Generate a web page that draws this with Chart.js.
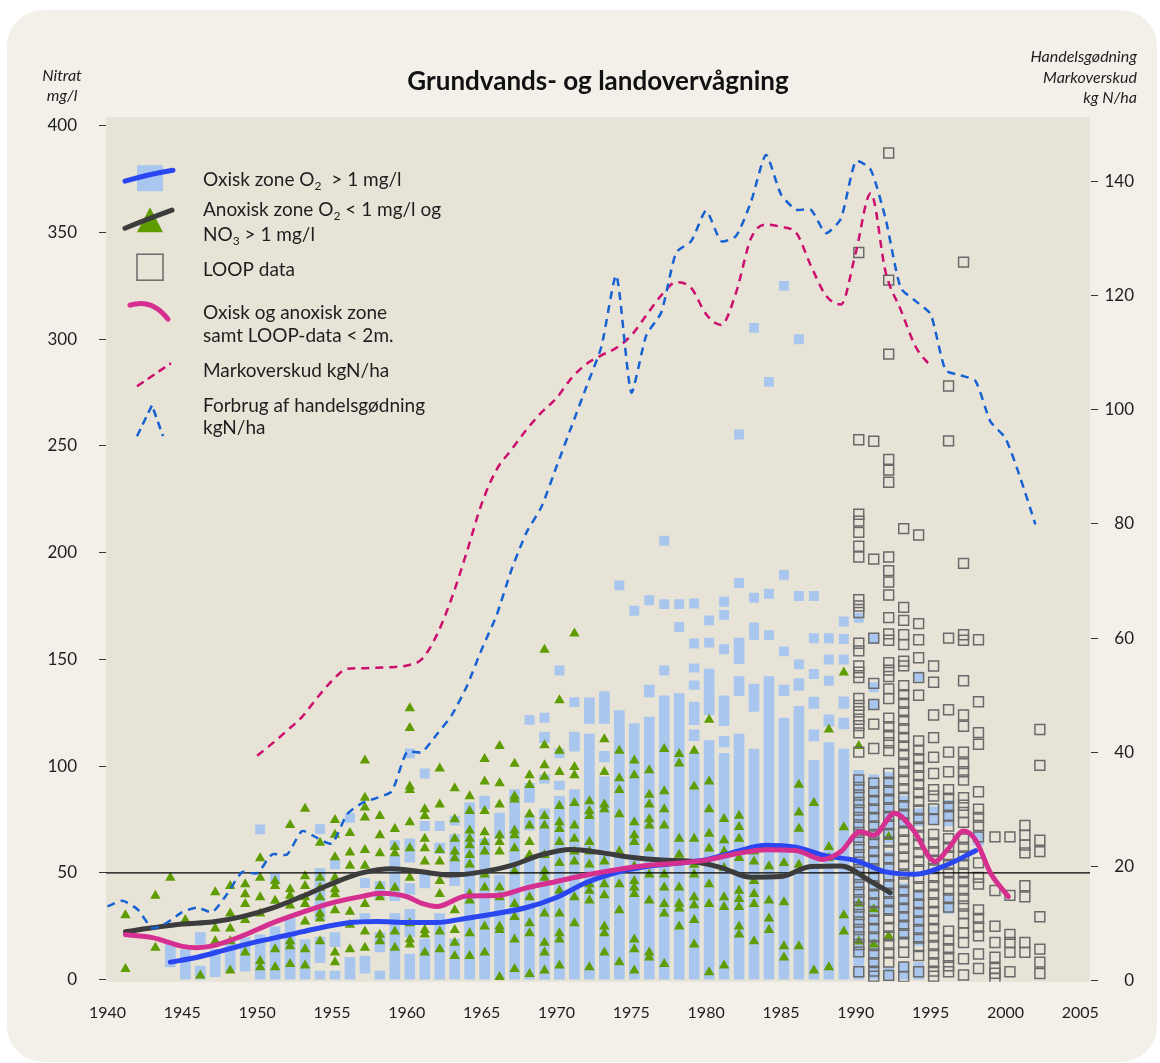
<!DOCTYPE html>
<html lang="da">
<head>
  <meta charset="UTF-8">
  <title>Grundvands- og landovervågning</title>
  <style>
    html, body { margin: 0; padding: 0; background: #fff; }
    .panel {
      position: absolute; left: 7px; top: 10px;
      width: 1150px; height: 1052px;
      background: #f3f0e9; border-radius: 36px;
    }
    .chart-box { position: absolute; left: 0; top: 0; }
  </style>
</head>
<body>
  <div class="panel"></div>
  <div class="chart-box"><canvas id="nitrat-chart" width="1160" height="1063"></canvas></div>

  <script src="https://cdn.jsdelivr.net/npm/chart.js@4.4.0/dist/chart.umd.min.js"></script>
  <script>
    const X_MIN = 1939.9, X_MAX = 2005.65;
    const X_TICKS = [1940, 1945, 1950, 1955, 1960, 1965, 1970, 1975, 1980, 1985, 1990, 1995, 2000, 2005];
    const LEFT_TICKS = [0, 50, 100, 150, 200, 250, 300, 350, 400];
    const RIGHT_TICKS = [0, 20, 40, 60, 80, 100, 120, 140];
    const LIMIT = 50;

    const LEFT_TITLE = ['Nitrat', 'mg/l'];
    const RIGHT_TITLE = ['Handelsgødning', 'Markoverskud', 'kg N/ha'];

    // oxisk zone: tætte søjler af målinger [år, fra, til] og enkeltpunkter [år, værdi]
    const OXI_COLS = [
      [1944.2, 6, 16.5], [1945.2, 0, 14], [1946.2, 0, 6.4], [1946.2, 16.5, 22], [1947.2, 1.4, 14.2],
      [1948.2, 4, 18], [1949.2, 4, 19.7], [1950.2, 0, 21], [1951.2, 0, 24.7], [1952.2, 0, 28.8],
      [1953.2, 0, 18.8], [1954.2, 0, 4], [1954.2, 8, 20], [1954.2, 28, 52], [1955.2, 0, 4], [1955.2, 15.5, 22],
      [1956.2, 0, 10.5], [1957.2, 3, 11], [1957.2, 26.5, 31], [1958.2, 0, 4], [1958.2, 13, 22], [1958.2, 38, 46],
      [1959.2, 0, 31], [1959.2, 37, 58], [1960.2, 0, 12], [1960.2, 20, 33], [1960.2, 40, 45], [1960.2, 55, 66],
      [1961.2, 0, 19], [1961.2, 43, 51], [1962.2, 0, 31], [1962.2, 59, 64], [1963.2, 0, 19], [1963.2, 44, 68],
      [1964.2, 0, 83], [1965.2, 0, 66], [1965.2, 80, 86], [1966.2, 0, 49], [1966.2, 66, 78], [1967.2, 0, 89],
      [1968.2, 0, 58], [1968.2, 70, 77], [1968.2, 83, 92], [1969.2, 0, 80], [1969.2, 92, 96], [1969.2, 111, 116],
      [1970.2, 0, 86], [1970.2, 89, 93], [1971.2, 0, 89], [1971.2, 107, 116], [1972.2, 0, 115], [1972.2, 120, 132],
      [1973.2, 0, 95], [1973.2, 102, 107], [1973.2, 120, 135], [1974.2, 0, 126], [1975.2, 0, 120],
      [1976.2, 0, 123], [1976.2, 132.4, 138], [1977.2, 0, 133], [1978.2, 0, 134],
      [1979.2, 0, 106], [1979.2, 112, 117], [1979.2, 119.5, 130], [1979.2, 136, 140], [1979.2, 144, 148],
      [1980.2, 0, 112], [1980.2, 124, 145.5], [1981.2, 0, 106], [1981.2, 109, 114], [1981.2, 119, 133],
      [1982.2, 0, 115], [1982.2, 133, 142], [1982.2, 148, 160], [1983.2, 0, 108], [1983.2, 125.6, 138.5],
      [1984.2, 0, 142], [1985.2, 0, 122.5], [1985.2, 133, 138], [1986.2, 0, 128], [1986.2, 135.5, 141],
      [1987.2, 0, 102.7], [1987.2, 111.8, 117], [1987.2, 127, 132.4], [1988.2, 0, 111], [1988.2, 118.7, 124],
      [1989.2, 0, 108], [1989.2, 117.5, 122.5], [1989.2, 127, 132.5], [1990.2, 0, 98],
      [1991.2, 0, 96], [1991.2, 126.6, 131], [1992.2, 0, 6], [1992.2, 30, 60], [1992.2, 64, 97],
      [1993.2, 0, 8], [1993.2, 19, 45], [1993.2, 71, 86], [1994.2, 0, 8], [1994.2, 16, 42], [1994.2, 72, 80],
      [1995.2, 73, 81], [1996.2, 31, 40], [1996.2, 72, 84], [1998.2, 63, 69]
    ];
    const OXI_PTS = [
      [1950.2, 70.4], [1951.2, 47.5], [1954.2, 70.5], [1955.2, 54], [1956.2, 75.8], [1957.2, 45.3], [1959.2, 63],
      [1960.2, 106], [1961.2, 72], [1961.2, 96.6], [1962.2, 72], [1963.2, 74.5], [1968.2, 121.7], [1969.2, 122.7],
      [1970.2, 106], [1970.2, 144.8], [1971.2, 130], [1974.2, 184.7], [1975.2, 172.8], [1976.2, 177.7],
      [1977.2, 144.8], [1977.2, 175.9], [1977.2, 205.6], [1978.2, 165.2], [1978.2, 175.9], [1979.2, 157.5],
      [1979.2, 176.2], [1980.2, 157.9], [1980.2, 168.3], [1981.2, 154.8], [1981.2, 170.9], [1981.2, 177],
      [1982.2, 185.8], [1982.2, 255.4], [1983.2, 161.4], [1983.2, 165], [1983.2, 178.9], [1983.2, 305.3],
      [1984.2, 161.4], [1984.2, 180.8], [1984.2, 280], [1985.2, 153.8], [1985.2, 189.6], [1985.2, 325],
      [1986.2, 147.7], [1986.2, 179.7], [1986.2, 300], [1987.2, 143.2], [1987.2, 159.9], [1987.2, 179.7],
      [1988.2, 140], [1988.2, 150], [1988.2, 159.9], [1989.2, 150], [1989.2, 159.6], [1989.2, 167.8],
      [1990.2, 169.5], [1991.2, 137], [1991.2, 159.6], [1994.2, 142]
    ];

    // anoxisk zone
    const ANOX_YEARS = [
      1941.2, 1943.2, 1944.2, 1945.2, 1946.2, 1947.2, 1948.2, 1949.2, 1950.2, 1951.2, 1952.2, 1953.2, 1954.2,
      1955.2, 1956.2, 1957.2, 1958.2, 1959.2, 1960.2, 1961.2, 1962.2, 1963.2, 1964.2, 1965.2, 1966.2, 1967.2,
      1968.2, 1969.2, 1970.2, 1971.2, 1972.2, 1973.2, 1974.2, 1975.2, 1976.2, 1977.2, 1978.2, 1979.2, 1980.2,
      1981.2, 1982.2, 1983.2, 1984.2, 1985.2, 1986.2, 1987.2, 1988.2, 1989.2, 1990.2, 1991.2, 1992.2
    ];
    const ANOX_VALUES = [
      [30.2, 5], [39.3, 15], [47.7], [28], [2], [40.9, 24, 18], [43.9, 31, 24, 18, 4.3],
      [44.7, 40, 35.5, 28, 12.7], [56.9, 47.7, 38.6, 31, 8.8, 5.8], [46.2, 43.9, 37, 14.2, 5.8],
      [72.5, 42.4, 39.3, 34.7, 18, 15.7, 7.3], [80.1, 48.5, 43.9, 38.6, 35.5, 27.2, 14.2, 6.6],
      [64.1, 47.7, 43.1, 38.6, 31, 28.7, 18], [74.8, 67.9, 57.3, 47.7, 42.4, 40, 32.5, 12.7, 8.1],
      [68.7, 59.6, 53.4, 31.8, 25.7, 14.2], [102.7, 85.2, 80.6, 76, 60.7, 53.4, 35.5, 22.6, 15],
      [76.7, 67.6, 59.2, 43.9, 38.6, 21, 18], [70.6, 62.2, 59.2, 43.1, 22.6, 15],
      [127.1, 117.9, 90.5, 88.9, 73.7, 61.5, 47.7, 26.4, 18.8, 16.5],
      [79.8, 76.7, 66, 61.5, 55.4, 23.3, 21.1, 12.7],
      [98.9, 82.1, 60.7, 55.4, 46.2, 40.1, 22.6, 14.2],
      [89.7, 75.2, 66, 60, 56.9, 32.5, 23.3, 17.3, 11.1],
      [85.9, 79, 69.9, 66, 63, 58.4, 53.9, 40.1, 37.1, 21.8, 11.1],
      [103.4, 92.8, 79, 69.1, 64.5, 60, 49.3, 43.2, 24.9, 12.7],
      [109.5, 92, 82.1, 67.6, 64.5, 60, 43.2, 38.6, 24.9, 23.3, 1.2],
      [101.1, 85.9, 84.4, 69.9, 67.6, 61.5, 50.8, 35.5, 29.4, 18.8, 5],
      [95.8, 91.2, 77.5, 72.2, 64.5, 58.4, 38.6, 26.4, 21.8, 2.7],
      [154.5, 109.8, 100.4, 95, 76.7, 72.2, 58.4, 50.8, 47.7, 31, 17.3, 12.7, 4.3],
      [130.9, 107.2, 97.3, 81.3, 73.7, 70.6, 64.5, 54.6, 41.6, 31, 21.8, 18.8, 6.6],
      [162.2, 99.6, 95.8, 82.8, 72.2, 66, 60, 55.4, 38.6, 26.4],
      [83.6, 79, 76.7, 64.5, 60, 53.9, 44.7, 41.6, 37.1, 5.8],
      [112.6, 97.3, 82.1, 79.8, 55.4, 44.7, 39.5, 24.9, 21.8, 12.7],
      [107.2, 94.3, 88.9, 77.5, 60, 44.7, 32.5, 8.1],
      [102.7, 95.8, 73.7, 67.6, 64.5, 53.1, 46.2, 43.2, 40.1, 18.8, 14.2, 4.3],
      [98.1, 86.6, 82.1, 75.2, 72.2, 61.5, 49.3, 37.1, 12.7, 10.4],
      [108, 88.2, 79.8, 72.2, 49.3, 43.2, 35.5, 31, 7.3],
      [105.7, 101.2, 66, 58.5, 43.2, 35.6, 33.3, 24.9],
      [107.2, 90.5, 66, 53.8, 49.3, 38.6, 34.8, 28, 16.5],
      [121.8, 92.8, 79.8, 68.4, 61.4, 44.7, 35.5, 3.5],
      [75.3, 65.3, 60, 52.3, 38.6, 34, 6.6],
      [76.8, 71.5, 66, 57, 41.6, 37.8, 34, 24.9, 21.1],
      [60, 55.4, 46.2, 40.1, 35.5, 18],
      [53.1, 37.1, 28.7, 23.3],
      [54.6, 36.3, 15.7, 10.4],
      [91.3, 78.3, 70.7, 53.8, 15.7],
      [82.8, 4.3],
      [117.2, 62.2, 57, 5.8],
      [143.9, 71.4, 30.2, 22.6],
      [109.5, 35.6, 17.9],
      [33, 16.5],
      [66.8, 20.5]
    ];

    // LOOP-data
    const LOOP_YEARS = [1990.2, 1991.2, 1992.2, 1993.2, 1994.2, 1995.2, 1996.2, 1997.2, 1998.2, 1999.3, 2000.3, 2001.3, 2002.3];
    const LOOP_VALUES = [
      [340.6, 252.9, 218, 214.8, 209.5, 203, 198, 178, 175, 172, 157.6, 154, 147, 144, 141.5, 131.7, 128.5, 125.5,
       122, 119, 115.6, 106.6, 93.5, 90, 86.5, 83, 79.5, 76, 72.5, 69, 65.5, 62, 58.5, 55, 51.5, 48, 44.5, 41,
       37.5, 34, 30.5, 27, 23.5, 20, 16.5, 13, 3.7],
      [252.2, 197, 160, 138.8, 128.9, 119.7, 108.3, 92, 88, 84, 80, 76, 72, 68, 64, 60, 56, 52, 48, 44, 40, 36,
       32, 28, 24, 20, 16, 12, 8, 4, 1.6],
      [387.2, 327.7, 293, 243.7, 238.7, 233, 198, 191.6, 186.3, 180.2, 169.6, 162, 159, 148.5, 145, 142, 136.2,
       131.7, 122.5, 118.5, 114.5, 111, 107.3, 96.6, 92.5, 88.5, 84.5, 80.5, 76.5, 72.5, 68.5, 64.5, 60.5, 56.5,
       52.5, 48.5, 44.5, 40.5, 36.5, 32.5, 28.5, 24.5, 20.5, 16.5, 12.5, 8.2, 2],
      [211.3, 174.4, 168.3, 161.6, 157, 149.2, 147, 137.7, 133.5, 129.5, 125.5, 121.5, 117.5, 113.5, 109.5, 105.5,
       101.5, 97.5, 93.5, 89.5, 85.5, 81.5, 77.5, 73.5, 69.5, 65.5, 61.5, 57.5, 53.5, 49.5, 45.5, 41.5, 37.5,
       33.5, 29.5, 25.5, 21.5, 17.5, 12.8, 6, 1.5],
      [208.3, 166.8, 159.2, 150.8, 141.5, 133.2, 111.8, 107.5, 103.5, 99.5, 95.5, 91.5, 87.5, 83.5, 79.5, 75.5,
       71.5, 67.5, 63.5, 59.5, 55.5, 51.5, 47.5, 43.5, 39.5, 35.5, 31.5, 27.5, 23.5, 19.5, 15.5, 11.3, 3.7],
      [146.9, 139.3, 124, 113.4, 104.2, 96.6, 89, 86, 80, 75, 68, 64, 60, 56, 52, 48, 44, 40, 36, 32, 28, 24, 20,
       16, 12, 8, 4, 1.6],
      [278.1, 252.4, 160, 126.4, 106.6, 97.4, 89, 85, 81, 77, 72, 66, 62, 58, 54, 50, 46, 42, 38, 34, 22.7, 18.5,
       14.5, 10.5, 6.5, 3.7],
      [336.1, 195, 161.6, 159, 140, 124, 118.7, 106.6, 101.2, 97.4, 93.5, 85.2, 81.7, 78.3, 73.7, 65.9, 62, 58,
       54, 50, 46, 42, 38, 34.5, 30.8, 26.5, 22, 17.4, 9.8, 2.2],
      [159.2, 130.2, 115.7, 110.3, 88, 79.9, 76, 72.2, 66.9, 54.7, 47.9, 44.8, 32.7, 28.7, 24.7, 20.5, 12, 5.2],
      [66.9, 41.8, 25, 17.4, 10.5, 5.2, 3, 0.7],
      [66.9, 39.5, 21.2, 17.4, 12.8, 3.7],
      [72.2, 67.7, 63, 59.4, 44, 38.8, 17.4, 12.8],
      [117.2, 100.4, 65.3, 60, 29.5, 14.3, 8.2, 2.9]
    ];

    // udglattede kurver, mg/l
    const OXI_TREND = [
      [1944.2, 8.2], [1946, 10.5], [1948, 14.2], [1950, 17.8], [1952, 20.8], [1954, 24], [1956, 26.5],
      [1958, 27.2], [1960, 26.8], [1962, 26.8], [1964, 28.8], [1966, 31], [1968, 33.8], [1970, 38.5],
      [1972, 45.5], [1974, 50.2], [1976, 53], [1978, 54.5], [1980, 56.2], [1982, 60], [1984, 63], [1986, 62],
      [1988, 58], [1990, 55.8], [1992, 50.5], [1994, 49.4], [1996, 53.5], [1998, 60.4]
    ];
    const ANOX_TREND = [
      [1941.2, 22.4], [1943, 24.3], [1945, 26.1], [1947, 27], [1949, 29.5], [1951, 33.5], [1953, 39], [1955, 45],
      [1957, 50], [1959, 52], [1961, 50.5], [1963, 49], [1965, 50.5], [1967, 53.5], [1969, 58.5], [1971, 61],
      [1973, 59.5], [1975, 57.3], [1977, 56], [1979, 55.5], [1981, 52.5], [1983, 48], [1985, 48.3], [1987, 53],
      [1989, 53.3], [1991, 46], [1992.3, 40.7]
    ];
    const ALL_TREND = [
      [1941.2, 21.1], [1943, 19.7], [1945, 15.6], [1946, 15], [1947, 15.8], [1949, 20.5], [1951, 26.5],
      [1953, 31.5], [1955, 36], [1957, 39], [1958.2, 40.5], [1960, 38.9], [1961, 35.7], [1962, 34.3],
      [1964, 39.2], [1966, 39.4], [1968, 43], [1970, 46], [1972, 49], [1974, 51.5], [1976, 53.5], [1978, 54.5],
      [1980, 56], [1982, 59], [1984, 60.9], [1986, 60.5], [1987.8, 56.3], [1989, 60], [1990.3, 69.3],
      [1991.2, 67.7], [1992.6, 78], [1993.8, 70.5], [1995.3, 55.4], [1996.2, 61.5], [1997.2, 69.6],
      [1998, 65.5], [1999, 50], [2000.2, 38.9]
    ];

    // kg N/ha (højre akse)
    const MARK = [
      [1950, 39.4], [1951, 41.5], [1952, 43.8], [1953, 46.2], [1954, 49.5], [1955, 52.5], [1956, 54.6],
      [1957, 54.7], [1958, 54.8], [1959, 54.9], [1960, 55.2], [1961, 56.3], [1962, 60.5], [1963, 67],
      [1964, 75], [1965, 83.5], [1966, 89.5], [1967, 93], [1968, 96.5], [1969, 99.5], [1970, 102],
      [1971, 105.5], [1972, 108], [1973, 109.5], [1974, 110.8], [1975, 113], [1976, 116.5], [1977, 120],
      [1978, 122.3], [1979, 121.3], [1980, 116.7], [1981, 114.8], [1982, 120.5], [1983, 130], [1984, 132.4],
      [1985, 132], [1986, 131], [1987, 125.2], [1988, 120], [1989, 118.4], [1990, 127.5], [1991, 137.9],
      [1992, 124], [1993, 117.5], [1994, 111], [1995, 107.6]
    ];
    const HANDEL = [
      [1940, 13], [1941, 14], [1942, 12.5], [1943, 9.2], [1944, 10.2], [1945, 12], [1946, 12.8], [1947, 12],
      [1948, 15.2], [1949, 19], [1950, 18.8], [1951, 22.1], [1952, 22.1], [1953, 26.2], [1954, 25], [1955, 24],
      [1956, 29.1], [1957, 31.1], [1958, 32], [1959, 33.2], [1960, 40], [1961, 40], [1962, 43.1], [1963, 46.5],
      [1964, 51.5], [1965, 58], [1966, 64], [1967, 72], [1968, 78.5], [1969, 83], [1970, 90], [1971, 97],
      [1972, 104], [1973, 111], [1974, 123.5], [1975, 103], [1976, 113], [1977, 117], [1978, 127.5],
      [1979, 129.5], [1980, 134.8], [1981, 129.5], [1982, 130.4], [1983, 136.4], [1984, 144.6], [1985, 137.7],
      [1986, 135], [1987, 135], [1988, 130.9], [1989, 133.4], [1990, 143.5], [1991, 142], [1992, 133.3],
      [1993, 121.3], [1994, 119], [1995, 116.7], [1996, 106.9], [1997, 106], [1998, 105], [1999, 97.9],
      [2000, 95], [2001, 88], [2002, 79.9]
    ];

    const OXI_COLOR = '#a9c6ee';
    const OXI_LINE_COLOR = '#2a46f0';
    const ANOX_COLOR = '#5f9c00';
    const ANOX_LINE_COLOR = '#3c3c3c';
    const LOOP_COLOR = '#6a6a6a';
    const ALL_COLOR = '#d52f90';
    const MARK_COLOR = '#cc0f6e';
    const HANDEL_COLOR = '#1662d2';
    const TEXT_COLOR = '#1e1e1e';
    const FONT = 'Lato';

    const toXY = (rows) => rows.map(([x, y]) => ({ x, y }));
    const spread = (years, values) => {
      const out = [];
      years.forEach((yr, i) => values[i].forEach(v => out.push({ x: yr, y: v })));
      return out;
    };

    function richText(ctx, parts, x, y) {
      for (const [t, sub] of parts) {
        ctx.font = sub ? `12px ${FONT}` : `19px ${FONT}`;
        ctx.fillText(t, x, sub ? y + 4 : y);
        x += ctx.measureText(t).width;
      }
    }

    function strokePath(ctx, pts, color, width, dash) {
      ctx.save();
      ctx.strokeStyle = color;
      ctx.lineWidth = width;
      ctx.lineCap = dash ? 'butt' : 'round';
      ctx.setLineDash(dash || []);
      ctx.beginPath();
      ctx.moveTo(pts[0][0], pts[0][1]);
      if (pts.length === 3 && !dash) {
        ctx.quadraticCurveTo(pts[1][0], pts[1][1], pts[2][0], pts[2][1]);
      } else {
        pts.slice(1).forEach(p => ctx.lineTo(p[0], p[1]));
      }
      ctx.stroke();
      ctx.restore();
    }

    const plotBackground = {
      id: 'plotBackground',
      beforeDraw(chart) {
        const { ctx, chartArea: a } = chart;
        ctx.save();
        ctx.fillStyle = '#e7e3d7';
        ctx.fillRect(a.left, a.top, a.right - a.left, a.bottom - a.top);
        ctx.restore();
      }
    };

    const legendBox = {
      id: 'legendBox',
      afterDatasetsDraw(chart) {
        const ctx = chart.ctx;
        const { left, top } = chart.chartArea;
        const sx = left + 44;
        const tx = left + 97;
        ctx.save();

        ctx.fillStyle = OXI_COLOR;
        ctx.fillRect(sx - 13, top + 48, 26, 26);
        strokePath(ctx, [[sx - 25, top + 64], [sx - 2, top + 57], [sx + 23, top + 53]], OXI_LINE_COLOR, 5);

        ctx.fillStyle = ANOX_COLOR;
        ctx.beginPath();
        ctx.moveTo(sx, top + 90);
        ctx.lineTo(sx + 13, top + 115);
        ctx.lineTo(sx - 13, top + 115);
        ctx.closePath();
        ctx.fill();
        strokePath(ctx, [[sx - 25, top + 111], [sx, top + 101], [sx + 22, top + 93]], ANOX_LINE_COLOR, 5);

        ctx.strokeStyle = LOOP_COLOR;
        ctx.lineWidth = 1.5;
        ctx.strokeRect(sx - 13, top + 137, 26, 26);

        strokePath(ctx, [[sx - 20, top + 188], [sx + 2, top + 181], [sx + 18, top + 202]], ALL_COLOR, 5);
        strokePath(ctx, [[sx - 13, top + 269], [sx + 21, top + 246]], MARK_COLOR, 2.5, [8, 5]);
        strokePath(ctx, [[sx - 13, top + 319], [sx + 2, top + 288], [sx + 13, top + 319]], HANDEL_COLOR, 2.5, [8, 5]);

        ctx.fillStyle = TEXT_COLOR;
        ctx.textBaseline = 'alphabetic';
        richText(ctx, [['Oxisk zone O', false], ['2', true], ['  > 1 mg/l', false]], tx, top + 69);
        richText(ctx, [['Anoxisk zone O', false], ['2', true], [' < 1 mg/l og', false]], tx, top + 99);
        richText(ctx, [['NO', false], ['3', true], [' > 1 mg/l', false]], tx, top + 124);
        richText(ctx, [['LOOP data', false]], tx, top + 159);
        richText(ctx, [['Oxisk og anoxisk zone', false]], tx, top + 202);
        richText(ctx, [['samt LOOP-data < 2m.', false]], tx, top + 225);
        richText(ctx, [['Markoverskud kgN/ha', false]], tx, top + 260);
        richText(ctx, [['Forbrug af handelsgødning', false]], tx, top + 295);
        richText(ctx, [['kgN/ha', false]], tx, top + 317);
        ctx.restore();
      }
    };

    const axisTitles = {
      id: 'axisTitles',
      afterDraw(chart) {
        const { ctx, chartArea } = chart;
        ctx.save();
        ctx.font = `italic 16px ${FONT}`;
        ctx.fillStyle = TEXT_COLOR;
        ctx.textBaseline = 'middle';
        ctx.textAlign = 'center';
        const lx = chart.scales.y.left + 62;
        LEFT_TITLE.forEach((t, i) => ctx.fillText(t, lx, chartArea.top - 41 + i * 20));
        ctx.textAlign = 'right';
        const rx = chart.scales.y2.right + 3;
        RIGHT_TITLE.forEach((t, i) => ctx.fillText(t, rx, chartArea.top - 60 + i * 20.5));
        ctx.restore();
      }
    };

    const xFont = { family: FONT, size: 16 };
    const yFont = { family: FONT, size: 17 };

    new Chart(document.getElementById('nitrat-chart'), {
      type: 'scatter',
      data: {
        datasets: [
          {
            type: 'line', label: 'Forbrug af handelsgødning kgN/ha', data: toXY(HANDEL), yAxisID: 'y2',
            borderColor: HANDEL_COLOR, borderWidth: 2.5, borderDash: [8, 6], pointRadius: 0, tension: 0.2, order: 1
          },
          {
            type: 'line', label: 'Markoverskud kgN/ha', data: toXY(MARK), yAxisID: 'y2',
            borderColor: MARK_COLOR, borderWidth: 2.5, borderDash: [8, 6], pointRadius: 0,
            cubicInterpolationMode: 'monotone', order: 2
          },
          {
            type: 'line', label: 'Oxisk og anoxisk zone samt LOOP-data < 2m.', data: toXY(ALL_TREND), yAxisID: 'y',
            borderColor: ALL_COLOR, borderWidth: 5, pointRadius: 0, cubicInterpolationMode: 'monotone',
            borderCapStyle: 'round', order: 3
          },
          {
            type: 'line', label: 'Anoxisk trend', data: toXY(ANOX_TREND), yAxisID: 'y',
            borderColor: ANOX_LINE_COLOR, borderWidth: 5, pointRadius: 0, cubicInterpolationMode: 'monotone',
            borderCapStyle: 'round', order: 4
          },
          {
            type: 'line', label: 'Oxisk trend', data: toXY(OXI_TREND), yAxisID: 'y',
            borderColor: OXI_LINE_COLOR, borderWidth: 5, pointRadius: 0, cubicInterpolationMode: 'monotone',
            borderCapStyle: 'round', order: 5
          },
          {
            type: 'line', label: '50 mg/l', data: [{ x: X_MIN, y: LIMIT }, { x: X_MAX, y: LIMIT }], yAxisID: 'y',
            borderColor: '#000', borderWidth: 1.3, pointRadius: 0, order: 6
          },
          {
            label: 'LOOP data', data: spread(LOOP_YEARS, LOOP_VALUES), yAxisID: 'y',
            pointStyle: 'rect', pointRadius: 7, borderColor: LOOP_COLOR, borderWidth: 1.5,
            backgroundColor: 'rgba(0,0,0,0)', order: 7
          },
          {
            label: 'Anoxisk zone', data: spread(ANOX_YEARS, ANOX_VALUES), yAxisID: 'y',
            pointStyle: 'triangle', pointRadius: 6, borderWidth: 0, backgroundColor: ANOX_COLOR, order: 8
          },
          {
            label: 'Oxisk zone', data: toXY(OXI_PTS), yAxisID: 'y',
            pointStyle: 'rect', pointRadius: 7, borderWidth: 0, backgroundColor: OXI_COLOR, order: 9
          },
          {
            type: 'bar', label: 'Oxisk zone (tætte målinger)', yAxisID: 'y',
            data: OXI_COLS.map(([x, lo, hi]) => ({ x, y: [lo, hi] })),
            backgroundColor: OXI_COLOR, borderWidth: 0, barThickness: 10, grouped: false, order: 10
          }
        ]
      },
      options: {
        responsive: false,
        animation: false,
        layout: { padding: { left: 0, right: 26, top: 56, bottom: 28 } },
        plugins: {
          legend: { display: false },
          tooltip: { enabled: false },
          title: {
            display: true,
            text: 'Grundvands- og landovervågning',
            fullSize: false,
            color: '#111',
            font: { family: FONT, size: 26, weight: 'bold' },
            padding: { top: 10, bottom: 20 }
          }
        },
        scales: {
          x: {
            type: 'linear', min: X_MIN, max: X_MAX, offset: false,
            afterBuildTicks: (s) => { s.ticks = X_TICKS.map(v => ({ value: v })); },
            ticks: { font: xFont, color: TEXT_COLOR, padding: 13, maxRotation: 0, callback: v => String(v) },
            grid: { display: false, offset: false },
            border: { display: false }
          },
          y: {
            position: 'left', min: -1, max: 404,
            afterBuildTicks: (s) => { s.ticks = LEFT_TICKS.map(v => ({ value: v })); },
            afterFit: (s) => { s.width = 106; },
            ticks: { font: yFont, color: TEXT_COLOR, padding: 19, callback: v => String(v) },
            grid: {
              drawOnChartArea: false, tickLength: 10, tickColor: '#333', tickWidth: 1,
              tickBorderDash: [0, 3, 7, 20]
            },
            border: { display: false }
          },
          y2: {
            position: 'right', min: -0.2, max: 151.2,
            afterBuildTicks: (s) => { s.ticks = RIGHT_TICKS.map(v => ({ value: v })); },
            afterFit: (s) => { s.width = 44; },
            ticks: { font: yFont, color: TEXT_COLOR, crossAlign: 'far', callback: v => String(v) },
            grid: {
              drawOnChartArea: false, tickLength: 10, tickColor: '#333', tickWidth: 1,
              tickBorderDash: [0, 1, 7, 20]
            },
            border: { display: false }
          }
        }
      },
      plugins: [plotBackground, legendBox, axisTitles]
    });
  </script>
</body>
</html>
